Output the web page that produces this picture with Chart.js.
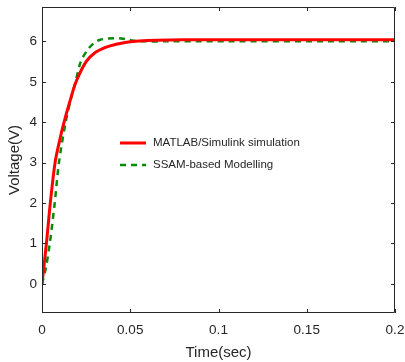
<!DOCTYPE html>
<html>
<head>
<meta charset="utf-8">
<script src="https://cdn.jsdelivr.net/npm/chart.js@4/dist/chart.umd.min.js"></script>
<style>
  html, body { margin: 0; padding: 0; background: #fff; }
  #wrap { width: 405px; height: 362px; position: relative; }
</style>
</head>
<body>
<div id="wrap"><canvas id="voltChart"></canvas></div>
<script>
const timeSim = [0, 0.0025, 0.0047, 0.0074, 0.0100, 0.0125, 0.0157, 0.0193, 0.025, 0.030, 0.036, 0.042, 0.048, 0.055, 0.065, 0.08, 0.2];
const voltSim = [0, 1, 2, 3, 3.55, 4, 4.5, 5, 5.5, 5.72, 5.85, 5.93, 5.98, 6.01, 6.03, 6.04, 6.04];

const timeSsam = [0, 0.0022, 0.0044, 0.0072, 0.0096, 0.0134, 0.0165, 0.019, 0.022, 0.026, 0.030, 0.033, 0.037, 0.041, 0.045, 0.049, 0.053, 0.06, 0.07, 0.2];
const voltSsam = [0, 0.4, 1, 2, 3, 4, 4.6, 5, 5.5, 5.8, 5.98, 6.04, 6.07, 6.08, 6.07, 6.04, 6.01, 6.0, 6.0, 6.0];

const xTicks = [0, 0.05, 0.1, 0.15, 0.2];
const yTicks = [0, 1, 2, 3, 4, 5, 6];
const seriesNames = ['MATLAB/Simulink simulation', 'SSAM-based Modelling'];

const FONT = 'Arial, "Liberation Sans", sans-serif';
const TXT = '#262626';

// box + inward ticks, matlab style
const boxTicks = {
    id: 'boxTicks',
    afterDatasetsDraw(chart) {
        const { ctx, chartArea: a, scales } = chart;
        ctx.save();
        ctx.strokeStyle = '#262626';
        ctx.lineWidth = 1;
        ctx.beginPath();
        ctx.rect(a.left + 0.5, a.top + 0.5, a.right - a.left - 1, a.bottom - a.top - 1);
        const len = 4;
        xTicks.forEach(v => {
            const px = Math.round(scales.x.getPixelForValue(v)) + 0.5;
            ctx.moveTo(px, a.bottom); ctx.lineTo(px, a.bottom - len);
            ctx.moveTo(px, a.top); ctx.lineTo(px, a.top + len);
        });
        yTicks.forEach(v => {
            const py = Math.round(scales.y.getPixelForValue(v)) + 0.5;
            ctx.moveTo(a.left, py); ctx.lineTo(a.left + len, py);
            ctx.moveTo(a.right, py); ctx.lineTo(a.right - len, py);
        });
        ctx.stroke();
        ctx.restore();
    }
};

// legend sitting inside the plot, no frame
const innerLegend = {
    id: 'innerLegend',
    afterDraw(chart) {
        const { ctx } = chart;
        const x0 = 120, y0 = 143, gap = 22;
        ctx.save();
        ctx.font = '11.5px ' + FONT;
        ctx.textBaseline = 'middle';
        chart.data.datasets.forEach((ds, i) => {
            const y = y0 + i * gap;
            ctx.beginPath();
            ctx.strokeStyle = ds.borderColor;
            ctx.lineWidth = ds.borderWidth;
            ctx.setLineDash(ds.borderDash || []);
            ctx.moveTo(x0, y);
            ctx.lineTo(x0 + 26, y);
            ctx.stroke();
            ctx.setLineDash([]);
            ctx.fillStyle = TXT;
            ctx.fillText(ds.label, x0 + 33, y);
        });
        ctx.restore();
    }
};

const ctx = document.getElementById('voltChart').getContext('2d');
new Chart(ctx, {
    type: 'line',
    data: {
        datasets: [
            {
                label: seriesNames[0],
                data: timeSim.map((t, i) => ({ x: t, y: voltSim[i] })),
                borderColor: '#ff0000',
                borderWidth: 3,
                pointRadius: 0,
                tension: 0.3,
                fill: false
            },
            {
                label: seriesNames[1],
                data: timeSsam.map((t, i) => ({ x: t, y: voltSsam[i] })),
                borderColor: '#0a8a0a',
                borderWidth: 2.5,
                borderDash: [6, 5],
                pointRadius: 0,
                tension: 0.3,
                fill: false
            }
        ]
    },
    options: {
        responsive: true,
        maintainAspectRatio: false,
        animation: false,
        layout: { padding: { top: 7, right: 10, left: 0, bottom: 0 } },
        plugins: {
            legend: { display: false },
            tooltip: { enabled: false }
        },
        scales: {
            x: {
                type: 'linear',
                min: 0,
                max: 0.2,
                afterBuildTicks: s => { s.ticks = xTicks.map(v => ({ value: v })); },
                afterFit: s => { s.height = 49; s.paddingLeft = 0; s.paddingRight = 0; },
                grid: { display: false, drawTicks: false },
                border: { display: false },
                ticks: {
                    color: TXT,
                    font: { family: FONT, size: 13.5 },
                    padding: 9,
                    maxRotation: 0,
                    callback: v => String(+v.toFixed(2))
                },
                title: {
                    display: true,
                    text: 'Time(sec)',
                    color: TXT,
                    font: { family: FONT, size: 15 },
                    padding: { top: 0, bottom: 0 }
                }
            },
            y: {
                type: 'linear',
                min: -0.72,
                max: 6.85,
                afterBuildTicks: s => { s.ticks = yTicks.map(v => ({ value: v })); },
                afterFit: s => { s.width = 42; s.paddingTop = 0; s.paddingBottom = 0; },
                grid: { display: false, drawTicks: false },
                border: { display: false },
                ticks: {
                    color: TXT,
                    font: { family: FONT, size: 13.5 },
                    padding: 5
                },
                title: {
                    display: true,
                    text: 'Voltage(V)',
                    color: TXT,
                    font: { family: FONT, size: 15 },
                    padding: { top: 6, bottom: 0 }
                }
            }
        }
    },
    plugins: [boxTicks, innerLegend]
});
</script>
</body>
</html>
